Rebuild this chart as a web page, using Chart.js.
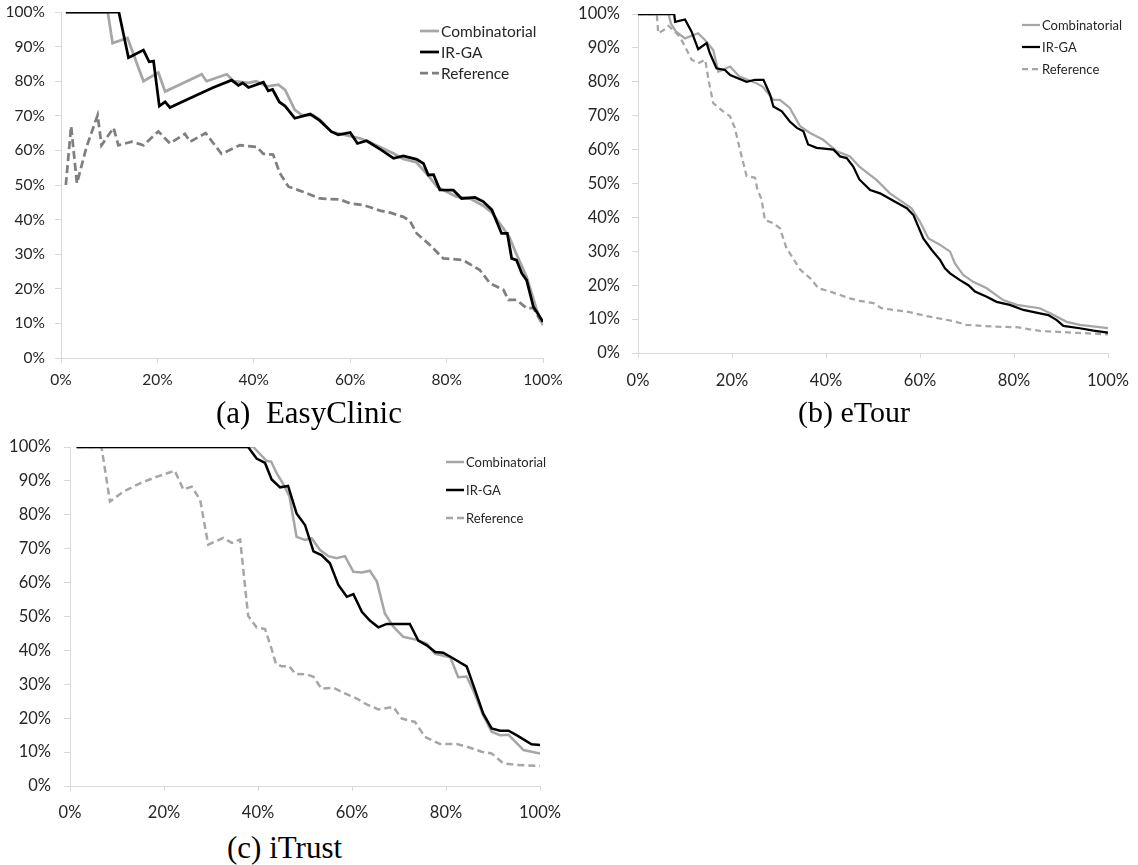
<!DOCTYPE html>
<html><head><meta charset="utf-8">
<script src="https://cdn.jsdelivr.net/npm/chart.js@4.4.1/dist/chart.umd.min.js"></script>
<style>
html,body{margin:0;padding:0;background:#fff;}
body{width:1138px;height:865px;position:relative;overflow:hidden;}
canvas{position:absolute;}
.cap{position:absolute;font-family:"Liberation Serif","Times New Roman",serif;color:#000;white-space:pre;line-height:1;}
</style></head><body>
<canvas id="cA" width="570" height="400" style="left:0;top:0"></canvas>
<canvas id="cB" width="568" height="400" style="left:570px;top:0"></canvas>
<canvas id="cC" width="570" height="400" style="left:0;top:430px"></canvas>
<div class="cap" style="left:216px;top:397px;font-size:31px">(a)  EasyClinic</div>
<div class="cap" style="left:798px;top:397px;font-size:30px">(b) eTour</div>
<div class="cap" style="left:227px;top:832px;font-size:31px">(c) iTrust</div>
<script>
// ---- shared tick labels ----
const xTickValues = [0, 20, 40, 60, 80, 100];
const yTickValues = [0, 10, 20, 30, 40, 50, 60, 70, 80, 90, 100];
const seriesNames = ['Combinatorial', 'IR-GA', 'Reference'];

// ---- (a) EasyClinic ----
const easyCombX = [1, 9.7, 10.7, 13.8, 17.1, 20.2, 21.6, 29.2, 30.2, 34.4, 35.8, 38.9, 40.5, 42.7, 45.1, 46.5, 48.5, 50.0, 52.3, 53.7, 56.1, 58.2, 62.0, 64, 69.0, 71, 73.8, 76.5, 78.0, 82.0, 85, 87.6, 89.4, 91.8, 93, 94.5, 96.6, 98.7, 100];
const easyCombY = [100, 100, 91, 92.5, 80, 82.5, 77, 82, 80, 82, 80, 79.5, 80, 78.5, 79, 77.5, 71.7, 70.2, 70.2, 68.9, 65.4, 64.7, 63.5, 62.4, 59.1, 57.5, 56.5, 52.2, 49.5, 46.6, 46, 44, 42, 37.4, 35, 30, 23.5, 13.9, 9.5];
const easyIrgaX = [1, 12.0, 14.0, 17.1, 18.3, 19.2, 20.4, 21.6, 22.6, 28.2, 31.6, 35.4, 36.8, 37.7, 38.9, 42.0, 43.0, 43.9, 45.3, 46.5, 48.5, 51.7, 53.7, 56.1, 57.5, 60.0, 61.5, 63.4, 66.5, 69.0, 71.0, 73.8, 75.2, 76.2, 77.3, 78.6, 81.4, 83.1, 85.9, 87.6, 89.4, 91.4, 92.6, 93.5, 94.5, 95.6, 96.6, 98.0, 100];
const easyIrgaY = [100, 100, 86.8, 89, 85.6, 85.8, 72.8, 74, 72.4, 76, 78.2, 80.3, 78.8, 79.5, 78.2, 79.7, 77.2, 77.6, 74, 72.8, 69.3, 70.5, 68.6, 65.4, 64.5, 65.2, 62, 62.8, 60.1, 57.7, 58.4, 57.4, 56.2, 52.9, 53, 48.6, 48.5, 46.1, 46.4, 45.2, 42.8, 36, 36, 28.8, 28.3, 24.5, 22.5, 14.8, 10.5];
const easyRefX = [1, 2.1, 3.3, 5.3, 7.6, 8.4, 10.9, 11.9, 14.7, 17.1, 20.2, 22.6, 25.7, 26.8, 30.0, 33.3, 37.1, 40.6, 42.0, 44.0, 45.4, 47.2, 50.3, 53.7, 57.9, 60.0, 62.7, 66.2, 68.3, 71.0, 72.4, 73.8, 76.6, 79.3, 83.4, 86.9, 89.0, 91.8, 92.8, 94.5, 96.6, 98.0, 100];
const easyRefY = [50, 67, 50.5, 61, 70.2, 61.5, 66.5, 61.5, 62.5, 61.5, 65.5, 62, 64.8, 62.5, 65, 59, 61.5, 61, 59, 58.8, 53.4, 49.5, 48, 46.1, 45.8, 44.7, 44.2, 42.6, 42, 40.8, 39.6, 36, 32.6, 28.8, 28.3, 25.4, 21.6, 19.7, 16.8, 16.8, 14.4, 14.4, 9.5];

// ---- (b) eTour ----
const etourCombX = [0, 6.5, 7.0, 8.1, 10, 12.8, 14.2, 16, 17.1, 19.6, 21.5, 25.2, 26.5, 28.8, 30.2, 32.3, 34.5, 36.6, 39.4, 42.3, 45.1, 47.1, 50.8, 53.6, 55.7, 58.2, 60, 61.8, 64.3, 66.4, 67.4, 69.2, 71.3, 74.2, 77.7, 80.6, 85.5, 87.7, 91.2, 94, 100];
const etourCombY = [100, 100, 97.2, 94.8, 92.8, 94.3, 92.4, 89.4, 83, 84.5, 81.6, 79.6, 78.6, 74.7, 74.7, 72.3, 66.9, 64.9, 62.9, 59.5, 58, 55, 51, 47.1, 45.1, 42.7, 38.7, 33.8, 31.9, 29.9, 26.5, 23, 21, 19.1, 15.6, 14.2, 13.2, 11.7, 9.2, 8.3, 7.3];
const etourIrgaX = [0, 7.7, 7.9, 10, 11.4, 12.8, 14.6, 15.3, 16.7, 18.5, 19.6, 23.1, 24.9, 26.7, 28.1, 28.8, 30.6, 32.3, 33.8, 35.2, 36.2, 38, 40.1, 41.6, 43, 44.4, 45.8, 47.1, 49.4, 51.5, 54.7, 57.2, 58.6, 60.7, 62.5, 64.3, 65.3, 66.4, 68.5, 70.3, 71.7, 74.2, 76.3, 79.1, 82, 85.5, 87.3, 89.1, 90.5, 94, 96.9, 100];
const etourIrgaY = [100, 100, 97.7, 98.4, 94.8, 89.6, 91.4, 88.4, 84, 83.5, 82, 80, 80.6, 80.6, 76.2, 72.7, 71.3, 68.3, 66.4, 65.4, 61.5, 60.5, 60.2, 60, 58, 57.5, 55, 51.2, 48.1, 47.1, 44.6, 42.7, 40.7, 33.8, 30.4, 27.4, 25, 23.5, 21.5, 20, 18.1, 16.6, 15.1, 14.2, 12.7, 11.7, 11.2, 9.7, 8, 7.3, 6.6, 6];
const etourRefX = [0, 4.0, 4.3, 6.1, 6.5, 8.9, 10, 11.4, 12.8, 14.3, 15, 16, 18.1, 19.6, 20.6, 21.7, 23.1, 24.9, 25.4, 26.3, 27, 28.8, 30.2, 31.6, 33, 34.5, 36.6, 38.4, 40.9, 43, 45.1, 47.1, 50.1, 51.8, 57.2, 61.4, 67.1, 69.9, 75.6, 80.6, 85.5, 92.6, 100];
const etourRefY = [100, 100, 94.3, 95.8, 96.5, 93.3, 90.4, 86.5, 85.5, 86.5, 80.6, 73.7, 71.3, 69.8, 66.4, 60, 52.2, 51.7, 48.2, 45.3, 39.2, 38.3, 36.8, 30.9, 27.9, 24.6, 22.1, 19.1, 18.1, 17.1, 16.1, 15.4, 14.7, 13.2, 12.2, 10.9, 9.4, 8.3, 7.8, 7.6, 6.5, 6, 5.5];

// ---- (c) iTrust ----
const itrustCombX = [1.4, 39, 41.8, 42.8, 44, 45.4, 46.7, 48.2, 50, 51.4, 53.2, 55, 56.7, 58.5, 60.3, 62.1, 63.8, 65.3, 67, 68.8, 70.9, 73.8, 75.9, 77.7, 80.9, 82.6, 84.4, 85.8, 87.9, 89.7, 91.5, 93.3, 96.5, 100];
const itrustCombY = [100, 100, 95.9, 95.7, 92.2, 89, 85.4, 73.5, 72.6, 73.1, 69.6, 67.8, 67.2, 67.8, 63.2, 63, 63.5, 60.3, 50.9, 47, 44, 43.1, 42, 39, 38, 32.1, 32.3, 28.2, 20.9, 16, 15, 15.1, 10.6, 9.6];
const itrustIrgaX = [1.4, 37.9, 39.7, 41.5, 42.9, 44.7, 46.4, 48.2, 50, 51.8, 53.5, 55.3, 57.1, 58.9, 60.3, 62.1, 63.8, 65.6, 67.4, 72.3, 74.1, 75.9, 77.7, 79.4, 81.2, 84.4, 86.2, 87.9, 89.7, 91.5, 93.3, 95, 98.2, 100];
const itrustIrgaY = [100, 100, 96.6, 95.3, 90.4, 88.1, 88.5, 80.4, 77, 69.2, 68.1, 65.7, 59.3, 55.8, 56.6, 51.4, 48.8, 46.8, 47.8, 47.8, 42.9, 41.5, 39.5, 39.3, 37.9, 35.3, 28.2, 21.4, 17, 16.3, 16.3, 15, 12.3, 12.1];
const itrustRefX = [1.4, 6.7, 8.5, 11.3, 14.9, 18.4, 22.3, 24.1, 25.9, 27.7, 29.4, 32.6, 34.4, 36.2, 37.9, 39.7, 41.5, 42.9, 43.8, 45, 46.7, 47.9, 50.4, 51.8, 53.5, 56, 58.2, 61, 63.1, 65.6, 68.8, 70.6, 73.4, 75.5, 78.7, 82.3, 84.4, 87.6, 89.7, 92.2, 95, 100];
const itrustRefY = [100, 100, 83.9, 86.8, 89.3, 91.2, 93, 87.5, 88.3, 84.4, 71.2, 73.2, 71.7, 72.7, 50.2, 46.8, 46.3, 40.4, 36.1, 35.3, 35.3, 33.1, 32.9, 32.2, 28.7, 29, 27.5, 25.8, 24.1, 22.6, 23.3, 19.9, 18.9, 14.5, 12.4, 12.4, 11.6, 10.1, 9.6, 6.7, 6.2, 5.9];

function pts(xs, ys) { return xs.map((x, i) => ({x: x, y: ys[i]})); }

const legendInside = {
  id: 'legendInside',
  afterDraw(chart, args, o) {
    const ctx = chart.ctx;
    ctx.save();
    ctx.font = o.size + 'px Lato';
    ctx.textBaseline = 'middle';
    ctx.textAlign = 'left';
    chart.data.datasets.forEach((ds, i) => {
      const y = o.y + i * o.dy;
      ctx.strokeStyle = ds.borderColor;
      ctx.lineWidth = ds.borderWidth;
      ctx.setLineDash(ds.borderDash || []);
      ctx.beginPath();
      ctx.moveTo(o.x, y);
      ctx.lineTo(o.x + o.len, y);
      ctx.stroke();
      ctx.setLineDash([]);
      ctx.fillStyle = '#262626';
      ctx.fillText(ds.label, o.x + o.len + 2, y + 1);
    });
    ctx.restore();
  }
};

function makeChart(id, data, o) {
  const datasets = [
    {label: seriesNames[0], data: pts(data[0], data[1]), borderColor: '#a6a6a6', borderWidth: o.lw, order: 1},
    {label: seriesNames[1], data: pts(data[2], data[3]), borderColor: '#000000', borderWidth: o.lw, order: 0},
    {label: seriesNames[2], data: pts(data[4], data[5]), borderColor: o.refColor, borderWidth: o.lw, borderDash: o.dash, order: 2}
  ];
  const tickFont = {family: 'Lato', size: o.fs};
  return new Chart(document.getElementById(id), {
    type: 'line',
    data: {datasets: datasets},
    options: {
      responsive: false, animation: false, devicePixelRatio: 1,
      layout: {padding: {left: 0, top: o.top, right: o.right, bottom: 0}},
      elements: {point: {radius: 0}, line: {tension: 0, borderCapStyle: 'butt', borderJoinStyle: 'miter'}},
      plugins: {legend: {display: false}, tooltip: {enabled: false}, legendInside: o.legend},
      scales: {
        x: {
          type: 'linear', min: 0, max: 100,
          afterBuildTicks: s => { s.ticks = xTickValues.map(v => ({value: v})); },
          ticks: {callback: v => v + '%', font: tickFont, color: '#262626', padding: o.xpad, maxRotation: 0, autoSkip: false},
          grid: {drawOnChartArea: false, tickLength: 5, color: '#d9d9d9'},
          border: {color: '#d9d9d9'},
          afterFit: s => { s.height = o.xh; s.paddingLeft = 0; s.paddingRight = 0; }
        },
        y: {
          type: 'linear', min: 0, max: 100,
          afterBuildTicks: s => { s.ticks = yTickValues.map(v => ({value: v})); },
          ticks: {callback: v => v + '%', font: tickFont, color: '#262626', padding: o.ypad, autoSkip: false},
          grid: {drawOnChartArea: false, tickLength: 6, color: '#d9d9d9'},
          border: {color: '#d9d9d9'},
          afterFit: s => { s.width = o.yw; s.paddingTop = 0; s.paddingBottom = 0; }
        }
      }
    },
    plugins: [legendInside]
  });
}

makeChart('cA', [easyCombX, easyCombY, easyIrgaX, easyIrgaY, easyRefX, easyRefY],
  {lw: 2.75, refColor: '#7f7f7f', dash: [8, 4], fs: 15.5, top: 12, right: 27, xh: 42, yw: 61, xpad: 8, ypad: 10,
   legend: {x: 420, y: 31, dy: 21, len: 19, size: 15.5}});
makeChart('cB', [etourCombX, etourCombY, etourIrgaX, etourIrgaY, etourRefX, etourRefY],
  {lw: 2.25, refColor: '#a6a6a6', dash: [6, 4], fs: 16.5, top: 14, right: 30, xh: 47, yw: 68, xpad: 13, ypad: 12,
   legend: {x: 452, y: 25, dy: 22, len: 18, size: 13}});
makeChart('cC', [itrustCombX, itrustCombY, itrustIrgaX, itrustIrgaY, itrustRefX, itrustRefY],
  {lw: 2.5, refColor: '#a6a6a6', dash: [7, 4], fs: 16.5, top: 17, right: 30, xh: 44, yw: 70, xpad: 12, ypad: 13,
   legend: {x: 446, y: 32, dy: 28, len: 18, size: 13}});
</script>
</body></html>
